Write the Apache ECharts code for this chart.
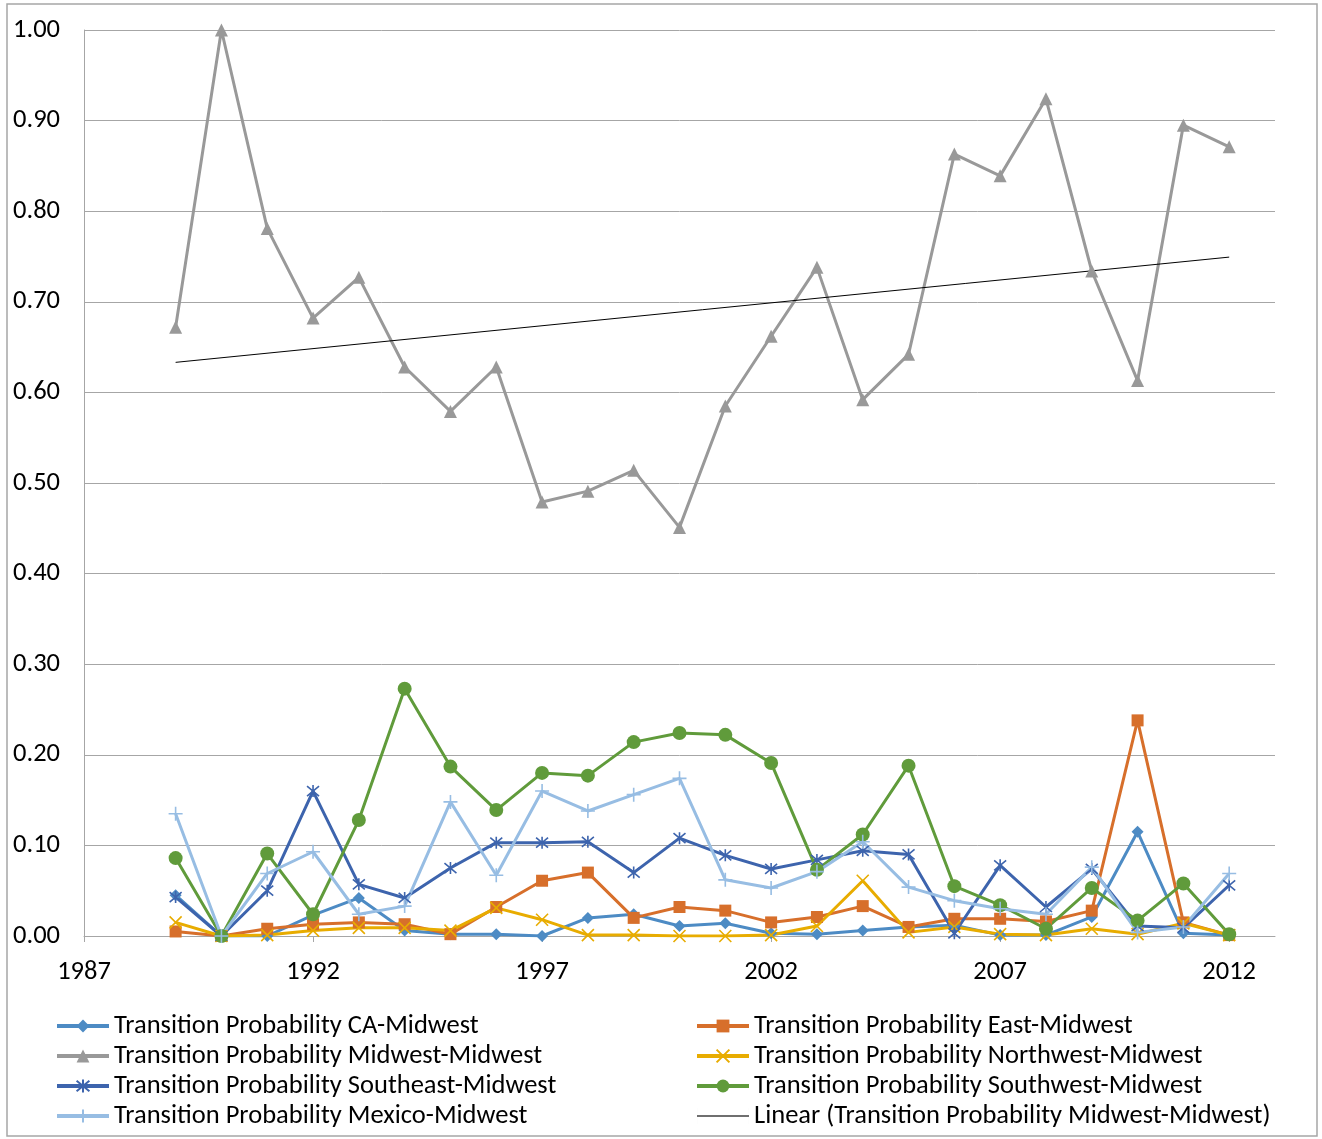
<!DOCTYPE html>
<html>
<head>
<meta charset="utf-8">
<script src="https://cdn.jsdelivr.net/npm/echarts@6/dist/echarts.min.js"></script>
<style>
html,body{margin:0;padding:0;background:#fff;}
#chart{width:1322px;height:1139px;}
</style>
</head>
<body>
<div id="chart"></div>
<script>
const years = [1989,1990,1991,1992,1993,1994,1995,1996,1997,1998,1999,2000,2001,2002,2003,2004,2005,2006,2007,2008,2009,2010,2011,2012];
const xTickLabels = [1987,1992,1997,2002,2007,2012];
const caMidwest =        [0.045,0.000,0.000,0.023,0.042,0.006,0.002,0.002,0.000,0.020,0.024,0.011,0.014,0.003,0.002,0.006,0.010,0.012,0.001,0.001,0.021,0.115,0.003,0.001];
const eastMidwest =      [0.005,0.000,0.008,0.013,0.015,0.013,0.002,0.032,0.061,0.070,0.020,0.032,0.028,0.015,0.021,0.033,0.010,0.019,0.019,0.016,0.028,0.238,0.015,0.001];
const midwestMidwest =   [0.672,1.000,0.781,0.682,0.727,0.628,0.579,0.628,0.479,0.491,0.514,0.451,0.585,0.662,0.738,0.592,0.642,0.863,0.839,0.924,0.734,0.613,0.895,0.871];
const northwestMidwest = [0.015,0.000,0.001,0.006,0.009,0.009,0.006,0.031,0.018,0.001,0.001,0.000,0.000,0.001,0.011,0.061,0.004,0.010,0.002,0.001,0.008,0.002,0.014,0.001];
const southeastMidwest = [0.043,0.000,0.050,0.160,0.057,0.042,0.075,0.103,0.103,0.104,0.070,0.108,0.089,0.074,0.084,0.094,0.090,0.003,0.078,0.032,0.074,0.011,0.009,0.056];
const southwestMidwest = [0.086,0.000,0.091,0.024,0.128,0.273,0.187,0.139,0.180,0.177,0.214,0.224,0.222,0.191,0.073,0.112,0.188,0.055,0.034,0.008,0.053,0.017,0.058,0.002];
const mexicoMidwest =    [0.135,0.000,0.069,0.093,0.024,0.033,0.148,0.067,0.160,0.138,0.156,0.174,0.062,0.053,0.071,0.104,0.054,0.039,0.030,0.024,0.076,0.004,0.010,0.069];

const names = {
  ca: 'Transition Probability CA-Midwest',
  east: 'Transition Probability East-Midwest',
  mid: 'Transition Probability Midwest-Midwest',
  nw: 'Transition Probability Northwest-Midwest',
  se: 'Transition Probability Southeast-Midwest',
  sw: 'Transition Probability Southwest-Midwest',
  mx: 'Transition Probability Mexico-Midwest',
  lin: 'Linear (Transition Probability Midwest-Midwest)'
};

// least-squares trendline of Midwest-Midwest
const n = years.length;
const mx_ = years.reduce((a,b)=>a+b,0)/n;
const my_ = midwestMidwest.reduce((a,b)=>a+b,0)/n;
let sxy=0,sxx=0;
for(let i=0;i<n;i++){sxy+=(years[i]-mx_)*(midwestMidwest[i]-my_);sxx+=(years[i]-mx_)*(years[i]-mx_);}
const slope = sxy/sxx, icpt = my_-slope*mx_;
const trend = [[years[0], icpt+slope*years[0]],[years[n-1], icpt+slope*years[n-1]]];

const pair = arr => years.map((y,i)=>[y,arr[i]]);

const PLUS = 'path://M10,0L10,20M0,10L20,10';
const XMARK = 'path://M0,0L20,20M20,0L0,20';
const STAR = 'path://M0,0L20,20M20,0L0,20M10,-2L10,22';
const THINLINE = 'path://M0,0h0.01v16h-0.01zM0,7.3h52v1.4h-52zM51.99,0h0.01v16h-0.01z';

const FONT = "Carlito, 'Open Sans', sans-serif";
const FS = 26.5;

function mk(name, data, color, symbol, size, strokeSym){
  const s = {
    name, type:'line', data: pair(data),
    symbol, symbolSize: size,
    lineStyle:{color, width:3},
    itemStyle:{color},
    emphasis:{disabled:true},
    animation:false
  };
  if(strokeSym){
    s.itemStyle = {color:'rgba(0,0,0,0)', borderColor: color, borderWidth: 1.6};
  }
  return s;
}

const series = [
  mk(names.ca, caMidwest, '#4d8bc4', 'diamond', 12),
  mk(names.east, eastMidwest, '#d76f2b', 'rect', 12),
  mk(names.mid, midwestMidwest, '#999999', 'triangle', 13),
  mk(names.nw, northwestMidwest, '#e8ac00', XMARK, 12, true),
  mk(names.se, southeastMidwest, '#3d64ad', STAR, 12, true),
  mk(names.sw, southwestMidwest, '#609b3b', 'circle', 14),
  mk(names.mx, mexicoMidwest, '#97bde3', PLUS, 14, true),
  {name:names.lin, type:'line', data:trend, symbol:'none', lineStyle:{color:'#000', width:1}, itemStyle:{color:'#000'}, animation:false, emphasis:{disabled:true}}
];

const legendCommon = {
  orient:'vertical', itemWidth:52, itemHeight:16, itemGap:0, itemTextGap:4, padding:0,
  textStyle:{fontFamily:FONT, fontSize:FS, color:'#000', lineHeight:30},
  lineStyle:{width:4},
  selectedMode:false
};

const chart = echarts.init(document.getElementById('chart'), null, {renderer:'canvas'});
chart.setOption({
  backgroundColor:'#fff',
  animation:false,
  grid:{left:84, right:47, top:30, bottom:203},
  xAxis:{
    type:'value', min:1987, max:2013,
    axisLine:{show:true, lineStyle:{color:'#a6a6a6', width:1}},
    axisTick:{show:true, inside:false, length:6, lineStyle:{color:'#a6a6a6'}, customValues:xTickLabels},
    axisLabel:{fontFamily:FONT, fontSize:FS, color:'#000', margin:23, customValues:xTickLabels, formatter:v=>String(v)},
    splitLine:{show:false}
  },
  yAxis:{
    type:'value', min:0, max:1, interval:0.1,
    axisLine:{show:true, lineStyle:{color:'#a6a6a6', width:1}},
    axisTick:{show:false},
    axisLabel:{fontFamily:FONT, fontSize:FS, color:'#000', margin:24, formatter:v=>v.toFixed(2)},
    splitLine:{show:true, lineStyle:{color:'#a6a6a6', width:1}}
  },
  legend:[
    Object.assign({left:55, top:1011, data:[names.ca, names.mid, names.se, names.mx]}, legendCommon),
    Object.assign({left:695, top:1011, data:[names.east, names.nw, names.sw, {name:names.lin, icon:THINLINE, itemStyle:{color:'#404040'}}]}, legendCommon)
  ],
  graphic:[{type:'rect', shape:{x:7, y:4, width:1310, height:1132}, style:{fill:'none', stroke:'#a6a6a6', lineWidth:1.5}, silent:true}],
  series
});
</script>
</body>
</html>
